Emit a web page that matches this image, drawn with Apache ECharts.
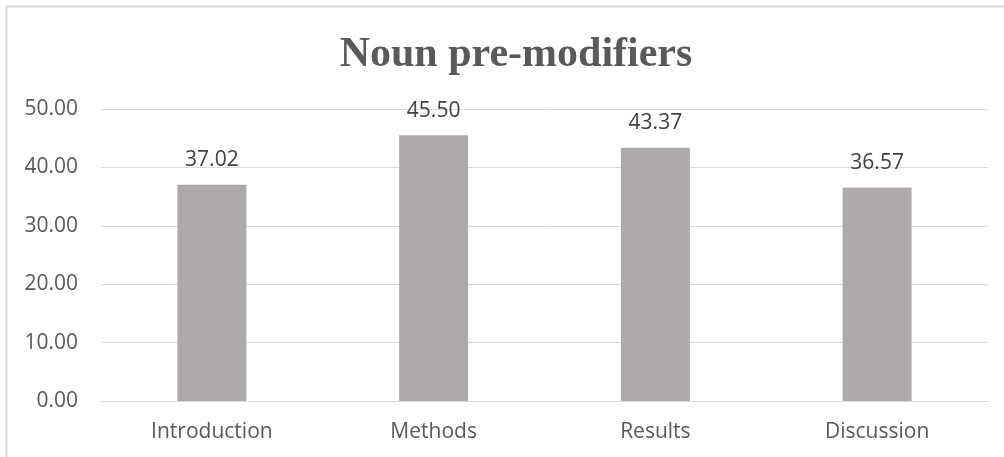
<!DOCTYPE html>
<html>
<head>
<meta charset="utf-8">
<script src="https://cdn.jsdelivr.net/npm/echarts@6/dist/echarts.min.js"></script>
<style>
  html, body { margin: 0; padding: 0; background: #fff; }
  #chart { width: 1004px; height: 457px; }
</style>
</head>
<body>
<div id="chart"></div>
<script>
var categories = ['Introduction', 'Methods', 'Results', 'Discussion'];
var values = [37.02, 45.50, 43.37, 36.57];
var yTicks = [0, 10, 20, 30, 40, 50];

var myChart = echarts.init(document.getElementById('chart'));
var option = {
    backgroundColor: '#fff',
    animation: false,
    title: {
        text: 'Noun pre-modifiers',
        left: 511,
        textAlign: 'center',
        top: 29,
        textStyle: {
            fontFamily: '"Liberation Serif", "DejaVu Serif", serif',
            fontWeight: 'bold',
            fontSize: 42,
            color: '#595959'
        }
    },
    // outer frame (right / bottom edges fall outside the picture)
    graphic: [{
        type: 'rect',
        shape: { x: 6.5, y: 6.5, width: 1100, height: 500 },
        style: { fill: 'none', stroke: '#d9d9d9', lineWidth: 2 },
        silent: true
    }],
    grid: { left: 101, right: 16, top: 109, bottom: 56 },
    xAxis: {
        type: 'category',
        data: categories,
        axisLine: { show: true, lineStyle: { color: '#d9d9d9', width: 1 } },
        axisTick: { show: false },
        axisLabel: {
            margin: 21,
            fontFamily: '"Open Sans", sans-serif',
            fontSize: 21,
            color: '#595959'
        }
    },
    yAxis: {
        type: 'value',
        min: yTicks[0],
        max: yTicks[yTicks.length - 1],
        interval: 10,
        axisLine: { show: false },
        axisTick: { show: false },
        splitLine: { lineStyle: { color: '#d9d9d9', width: 1 } },
        axisLabel: {
            margin: 23,
            fontFamily: '"Open Sans", sans-serif',
            fontSize: 21,
            color: '#595959',
            formatter: function (v) { return v.toFixed(2); }
        }
    },
    series: [{
        type: 'bar',
        data: values,
        barWidth: 69,
        itemStyle: { color: '#aeaaaa' },
        label: {
            show: true,
            position: 'top',
            distance: 14,
            fontFamily: '"Open Sans", sans-serif',
            fontSize: 21,
            color: '#404040',
            formatter: function (p) { return p.value.toFixed(2); }
        }
    }]
};
myChart.setOption(option);
</script>
</body>
</html>
